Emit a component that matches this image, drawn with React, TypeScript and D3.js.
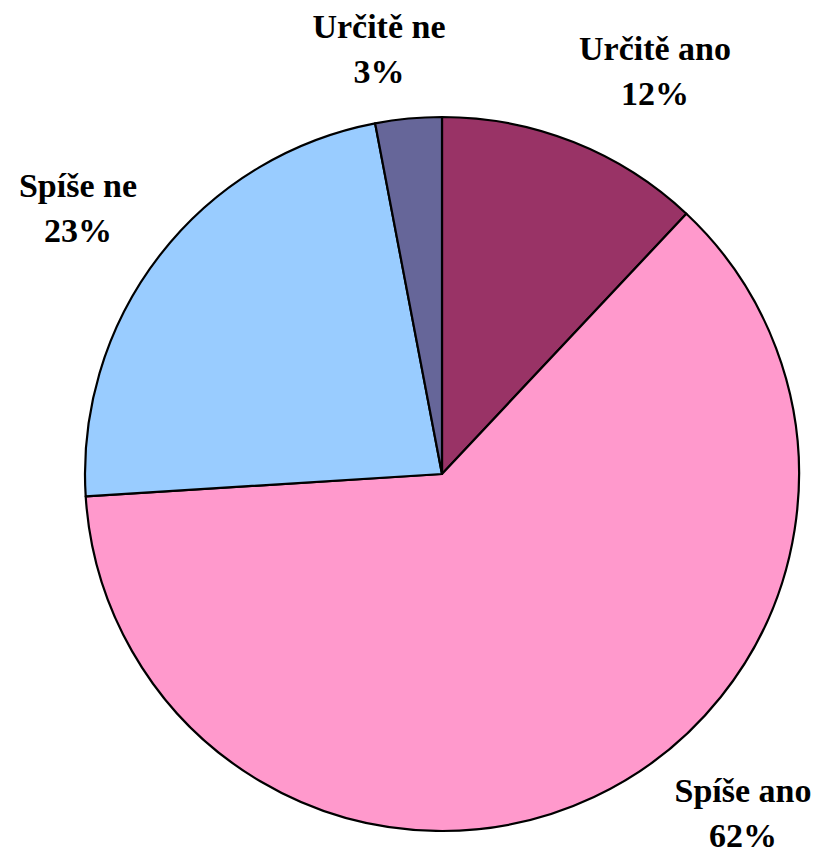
import React from 'react';
import * as d3 from 'd3';

// slices, clockwise from 12 o'clock
const categories = ['Určitě ano', 'Spíše ano', 'Spíše ne', 'Určitě ne'];
const values = [12, 62, 23, 3];
const colors = ['#993366', '#FF99CC', '#99CCFF', '#666699'];
// label anchor points (centre of the two-line label, first baseline)
const labelPos: [number, number][] = [[655, 60], [743, 802], [78, 197], [379, 38]];

const App: React.FC = () => {
  const width = 825;
  const height = 853;
  const cx = 442;
  const cy = 474;
  const radius = 357;

  const data = categories.map((c, i) => ({ name: c, value: values[i], color: colors[i] }));
  const pie = d3.pie<{ name: string; value: number; color: string }>().sort(null).value(d => d.value);
  const arc = d3.arc<d3.PieArcDatum<{ name: string; value: number; color: string }>>().innerRadius(0).outerRadius(radius);
  const arcs = pie(data);

  return <svg width={width} height={height} fontFamily="Liberation Serif" style={{ position: 'absolute', left: 0, top: 0 }}>
      <rect width={width} height={height} fill="#fff" />
      <g transform={`translate(${cx},${cy})`}>
        {arcs.map((a, i) => <path key={i} d={arc(a) || ''} fill={a.data.color} stroke="#000" strokeWidth={2.2} strokeLinejoin="round" />)}
      </g>
      {arcs.map((a, i) => <g key={i} fontFamily="Liberation Serif" fontWeight="bold" fontSize={34} textAnchor="middle">
          <text x={labelPos[i][0]} y={labelPos[i][1]} fontFamily="Liberation Serif">{a.data.name}</text>
          <text x={labelPos[i][0]} y={labelPos[i][1] + 45} fontFamily="Liberation Serif">{a.data.value}%</text>
        </g>)}
    </svg>;
};

export default App;
